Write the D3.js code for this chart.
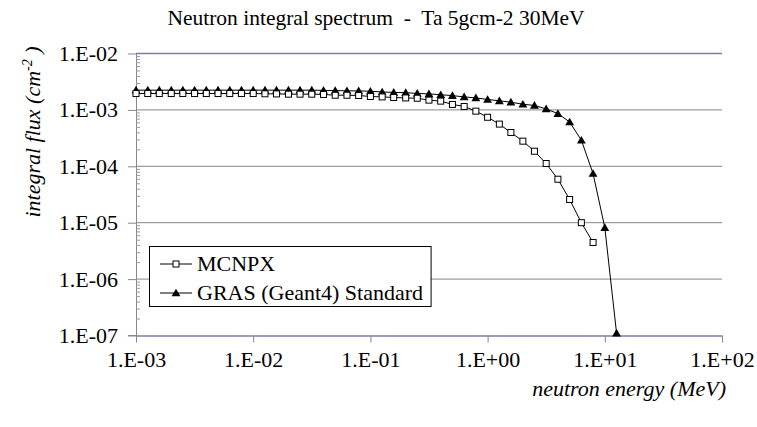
<!DOCTYPE html>
<html><head><meta charset="utf-8">
<script src="https://cdn.jsdelivr.net/npm/d3@7"></script>
<style>
body{margin:0;background:#fff}
svg text{font-family:"Liberation Serif","Times New Roman",serif;fill:#000;white-space:pre}
</style>
</head><body><svg id="c" width="757" height="427"></svg>
<script>
const energies = [0.001,0.00126,0.00158,0.002,0.00251,0.00316,0.00398,0.00501,0.00631,0.00794,
  0.01,0.0126,0.0158,0.02,0.0251,0.0316,0.0398,0.0501,0.0631,0.0794,
  0.1,0.126,0.158,0.2,0.251,0.316,0.398,0.501,0.631,0.794,
  1,1.26,1.58,2,2.51,3.16,3.98,5.01,6.31,7.94,10,12.6];
const mcnpx = [1.95e-3,1.95e-3,1.95e-3,1.95e-3,1.95e-3,1.95e-3,1.95e-3,1.95e-3,1.95e-3,1.95e-3,
  1.95e-3,1.93e-3,1.92e-3,1.9e-3,1.9e-3,1.9e-3,1.88e-3,1.82e-3,1.82e-3,1.8e-3,
  1.73e-3,1.7e-3,1.66e-3,1.63e-3,1.61e-3,1.49e-3,1.43e-3,1.25e-3,1.15e-3,9.5e-4,
  7.4e-4,5.6e-4,3.97e-4,2.79e-4,1.85e-4,1.12e-4,5.9e-5,2.58e-5,1.0e-5,4.46e-6];
const gras = [2.24e-3,2.24e-3,2.24e-3,2.24e-3,2.24e-3,2.24e-3,2.24e-3,2.24e-3,2.24e-3,2.24e-3,
  2.24e-3,2.24e-3,2.24e-3,2.24e-3,2.24e-3,2.24e-3,2.22e-3,2.2e-3,2.18e-3,2.17e-3,
  2.14e-3,2.08e-3,2.04e-3,2.02e-3,1.96e-3,1.92e-3,1.86e-3,1.79e-3,1.70e-3,1.63e-3,
  1.53e-3,1.45e-3,1.37e-3,1.26e-3,1.2e-3,1.04e-3,8.6e-4,6.1e-4,2.9e-4,7.45e-5,8.2e-6,1.1e-7];
const seriesNames = ["MCNPX","GRAS (Geant4) Standard"];
const xTickValues = [1e-3,1e-2,1e-1,1e0,1e1,1e2];
const xTickLabels = ["1.E-03","1.E-02","1.E-01","1.E+00","1.E+01","1.E+02"];
const yTickValues = [1e-7,1e-6,1e-5,1e-4,1e-3,1e-2];
const yTickLabels = ["1.E-07","1.E-06","1.E-05","1.E-04","1.E-03","1.E-02"];
const titleText = "Neutron integral spectrum  -  Ta 5gcm-2 30MeV";

const SERIF = "Liberation Serif, Times New Roman, serif";
const svg = d3.select("#c");
const L=136, R=722, T=53.5, B=335.5;
const x = d3.scaleLog().domain([1e-3,1e2]).range([L,R]);
const y = d3.scaleLog().domain([1e-7,1e-2]).range([B,T]);
const FS = 22;

// gridlines
svg.append("g").selectAll("line").data(yTickValues.slice(1,5)).join("line")
  .attr("x1",L).attr("x2",R).attr("y1",d=>y(d)).attr("y2",d=>y(d))
  .attr("stroke","#888").attr("stroke-width",1);
svg.append("line").attr("x1",L).attr("x2",R).attr("y1",y(1e-2)).attr("y2",y(1e-2))
  .attr("stroke","#7c7ca8").attr("stroke-width",1.6);

// y axis major
const yAxis = svg.append("g").attr("transform",`translate(${L},0)`)
  .call(d3.axisLeft(y).tickValues(yTickValues).tickFormat((d,i)=>yTickLabels[i]).tickSize(8).tickSizeOuter(0).tickPadding(10))
  .attr("font-family",SERIF);
yAxis.select(".domain").attr("stroke","#888");
yAxis.selectAll(".tick line").attr("stroke","#888");
yAxis.selectAll("text").attr("font-size",FS);
// y minor ticks inside
const minor = [];
yTickValues.slice(0,5).forEach(v=>{ for(let k=2;k<=9;k++) minor.push(v*k); });
svg.append("g").attr("transform",`translate(${L},0)`)
  .call(d3.axisRight(y).tickValues(minor).tickFormat("").tickSize(4).tickSizeOuter(0))
  .call(g=>g.select(".domain").remove())
  .selectAll("line").attr("stroke","#999");

// x axis
const xAxis = svg.append("g").attr("transform",`translate(0,${B})`)
  .call(d3.axisBottom(x).tickValues(xTickValues).tickFormat((d,i)=>xTickLabels[i]).tickSize(7).tickSizeOuter(0).tickPadding(9))
  .attr("font-family",SERIF);
xAxis.select(".domain").attr("stroke","#7c7ca8").attr("stroke-width",1.6);
xAxis.selectAll(".tick line").attr("stroke","#888");
xAxis.selectAll("text").attr("font-size",FS);
svg.append("line").attr("x1",L-8).attr("x2",L).attr("y1",B).attr("y2",B).attr("stroke","#888");

// lines
const line = d3.line().x(d=>x(d[0])).y(d=>y(d[1]));
const mPts = mcnpx.map((v,i)=>[energies[i],v]);
const gPts = gras.map((v,i)=>[energies[i],v]);
svg.append("path").attr("d",line(gPts)).attr("fill","none").attr("stroke","#000").attr("stroke-width",1);
svg.append("path").attr("d",line(mPts)).attr("fill","none").attr("stroke","#000").attr("stroke-width",1);
const tri = d3.symbol().type(d3.symbolTriangle).size(34);
svg.append("g").selectAll("path").data(gPts).join("path")
  .attr("d",tri).attr("transform",d=>`translate(${x(d[0])},${y(d[1])+0.8})`).attr("fill","#000");
svg.append("g").selectAll("rect").data(mPts).join("rect")
  .attr("x",d=>x(d[0])-3).attr("y",d=>y(d[1])-3).attr("width",6).attr("height",6)
  .attr("fill","#fff").attr("stroke","#000").attr("stroke-width",1);

// legend
const lg = svg.append("g");
const box = lg.append("rect").attr("x",149.5).attr("y",246.5).attr("height",60)
  .attr("fill","#fff").attr("stroke","#000").attr("stroke-width",1);
const rows=[264,293];
let maxW = 0;
rows.forEach((ry,i)=>{
  lg.append("line").attr("x1",160).attr("x2",192).attr("y1",ry).attr("y2",ry).attr("stroke","#000");
  if(i===0) lg.append("rect").attr("x",173).attr("y",ry-3).attr("width",6).attr("height",6).attr("fill","#fff").attr("stroke","#000");
  else lg.append("path").attr("d",tri).attr("transform",`translate(176,${ry+0.8})`).attr("fill","#000");
  const t = lg.append("text").attr("x",197).attr("y",ry+7).attr("font-size",FS).attr("font-family",SERIF).text(seriesNames[i]);
  maxW = Math.max(maxW, t.node().getComputedTextLength());
});
box.attr("width", 197 + maxW + 8 - 149.5);

// titles
svg.append("text").attr("x",376).attr("y",25).attr("text-anchor","middle").attr("font-size",21.5)
  .attr("font-family",SERIF).attr("xml:space","preserve").text(titleText);
const yl = svg.append("text").attr("transform","translate(40,132) rotate(-90)").attr("text-anchor","middle")
  .attr("font-size",FS).attr("font-style","italic").attr("font-family",SERIF);
yl.append("tspan").text("integral flux (cm");
yl.append("tspan").attr("font-size",14).attr("dy",-8).text("-2");
yl.append("tspan").attr("dy",8).text(" )");
svg.append("text").attr("x",726).attr("y",396).attr("text-anchor","end").attr("font-size",FS)
  .attr("font-style","italic").attr("font-family",SERIF).text("neutron energy (MeV)");
</script></body></html>
